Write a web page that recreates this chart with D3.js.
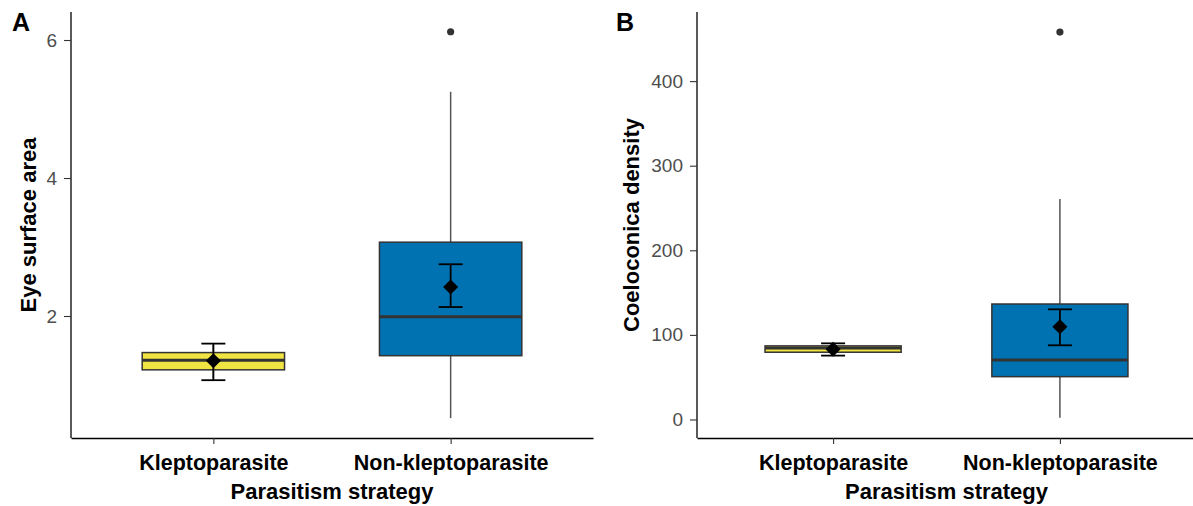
<!DOCTYPE html>
<html><head><meta charset="utf-8">
<script src="https://cdn.jsdelivr.net/npm/d3@7"></script>
<style>
body{margin:0;background:#fff;}
svg{display:block;font-family:"Liberation Sans",Arial,sans-serif;}
</style></head>
<body><svg id="c" width="1193" height="506"></svg>
<script>
// ---- data ----
const categories = ["Kleptoparasite", "Non-kleptoparasite"];
const fills = ["#F0E442", "#0072B2"];

// Panel A: Eye surface area
const eyeQ1 = [1.22, 1.425];
const eyeMedian = [1.36, 1.99];
const eyeQ3 = [1.47, 3.07];
const eyeWhiskerLow = [1.1, 0.52];
const eyeWhiskerHigh = [1.58, 5.25];
const eyeOutliers = [[], [6.12]];
const eyeMean = [1.35, 2.42];
const eyeSeLow = [1.07, 2.13];
const eyeSeHigh = [1.60, 2.75];
const eyeTicks = [2, 4, 6];

// Panel B: Coeloconica density
const coeQ1 = [79.5, 50.6];
const coeMedian = [84.5, 70.3];
const coeQ3 = [87, 136.5];
const coeWhiskerLow = [78, 2];
const coeWhiskerHigh = [88, 260.6];
const coeOutliers = [[], [458]];
const coeMean = [83, 109.7];
const coeSeLow = [75.5, 87.7];
const coeSeHigh = [90, 130.2];
const coeTicks = [0, 100, 200, 300, 400];

const svg = d3.select("#c");

function panel(opt) {
  const x = d3.scaleLinear().domain([0.4, 2.6]).range([opt.x0, opt.x1]);
  const y = d3.scaleLinear().domain(opt.yDomain).range([438, 12]);
  const g = svg.append("g");
  const bw = 0.6;
  const unit = x(2) - x(1);

  categories.forEach((c, i) => {
    const cx = x(i + 1);
    // whiskers
    g.append("line").attr("x1", cx).attr("x2", cx)
      .attr("y1", y(opt.q3[i])).attr("y2", y(opt.wh[i]))
      .attr("stroke", "#555").attr("stroke-width", 1.5);
    g.append("line").attr("x1", cx).attr("x2", cx)
      .attr("y1", y(opt.q1[i])).attr("y2", y(opt.wl[i]))
      .attr("stroke", "#555").attr("stroke-width", 1.5);
    // box
    g.append("rect").attr("x", cx - unit * bw / 2).attr("width", unit * bw)
      .attr("y", y(opt.q3[i])).attr("height", y(opt.q1[i]) - y(opt.q3[i]))
      .attr("fill", fills[i]).attr("stroke", "#333").attr("stroke-width", 1.5);
    // median
    g.append("line").attr("x1", cx - unit * bw / 2).attr("x2", cx + unit * bw / 2)
      .attr("y1", y(opt.med[i])).attr("y2", y(opt.med[i]))
      .attr("stroke", "#333").attr("stroke-width", 3);
    // outliers
    opt.out[i].forEach(v => {
      g.append("circle").attr("cx", cx).attr("cy", y(v)).attr("r", 3.6).attr("fill", "#333");
    });
    // error bar
    const hw = 12;
    g.append("line").attr("x1", cx).attr("x2", cx)
      .attr("y1", y(opt.seLo[i])).attr("y2", y(opt.seHi[i]))
      .attr("stroke", "#000").attr("stroke-width", 1.8);
    [opt.seLo[i], opt.seHi[i]].forEach(v => {
      g.append("line").attr("x1", cx - hw).attr("x2", cx + hw)
        .attr("y1", y(v)).attr("y2", y(v))
        .attr("stroke", "#000").attr("stroke-width", 1.8);
    });
    // mean diamond
    const my = y(opt.mean[i]), d = 7.5;
    g.append("path")
      .attr("d", `M${cx},${my - d}L${cx + d},${my}L${cx},${my + d}L${cx - d},${my}Z`)
      .attr("fill", "#000");
  });

  // y axis
  const ya = g.append("g").attr("transform", `translate(${opt.x0},0)`)
    .call(d3.axisLeft(y).tickValues(opt.ticks).tickFormat(d3.format("d"))
      .tickSize(7).tickPadding(7).tickSizeOuter(0));
  ya.select(".domain").attr("stroke", "#000").attr("stroke-width", 1.3)
    .attr("d", `M0,${y.range()[0]}V${y.range()[1]}`);
  ya.selectAll(".tick line").attr("stroke", "#333").attr("stroke-width", 1.1);
  ya.selectAll(".tick text").attr("fill", "#4d4d4d").attr("font-size", 19)
    .attr("font-family", "Liberation Sans, Arial, sans-serif");

  // x axis
  const xa = g.append("g").attr("transform", "translate(0,438)")
    .call(d3.axisBottom(x).tickValues([1, 2]).tickFormat((d) => categories[d - 1])
      .tickSize(6).tickPadding(12).tickSizeOuter(0));
  xa.select(".domain").attr("stroke", "#000").attr("stroke-width", 1.3);
  xa.selectAll(".tick line").attr("stroke", "#333").attr("stroke-width", 1.1);
  xa.selectAll(".tick text").attr("fill", "#000").attr("font-size", 21.5)
    .attr("font-weight", "bold").attr("dy", null).attr("y", 32)
    .attr("font-family", "Liberation Sans, Arial, sans-serif");

  // titles
  svg.append("text").attr("x", (opt.x0 + opt.x1) / 2).attr("y", 499)
    .attr("text-anchor", "middle").attr("font-size", 22).attr("font-weight", "bold")
    .text("Parasitism strategy");
  svg.append("text").attr("transform", `translate(${opt.ytx},225) rotate(-90)`)
    .attr("text-anchor", "middle").attr("font-size", 22).attr("font-weight", "bold")
    .text(opt.ytitle);
  svg.append("text").attr("x", opt.tagX).attr("y", 31)
    .attr("font-size", 25).attr("font-weight", "bold").text(opt.tag);
}

panel({
  x0: 71, x1: 593, yDomain: [0.232, 6.406], ticks: eyeTicks,
  q1: eyeQ1, med: eyeMedian, q3: eyeQ3, wl: eyeWhiskerLow, wh: eyeWhiskerHigh,
  out: eyeOutliers, mean: eyeMean, seLo: eyeSeLow, seHi: eyeSeHigh,
  ytitle: "Eye surface area", ytx: 36, tag: "A", tagX: 12
});
panel({
  x0: 697, x1: 1196, yDomain: [-21.9, 481.7], ticks: coeTicks,
  q1: coeQ1, med: coeMedian, q3: coeQ3, wl: coeWhiskerLow, wh: coeWhiskerHigh,
  out: coeOutliers, mean: coeMean, seLo: coeSeLow, seHi: coeSeHigh,
  ytitle: "Coeloconica density", ytx: 639, tag: "B", tagX: 616
});
</script></body></html>
